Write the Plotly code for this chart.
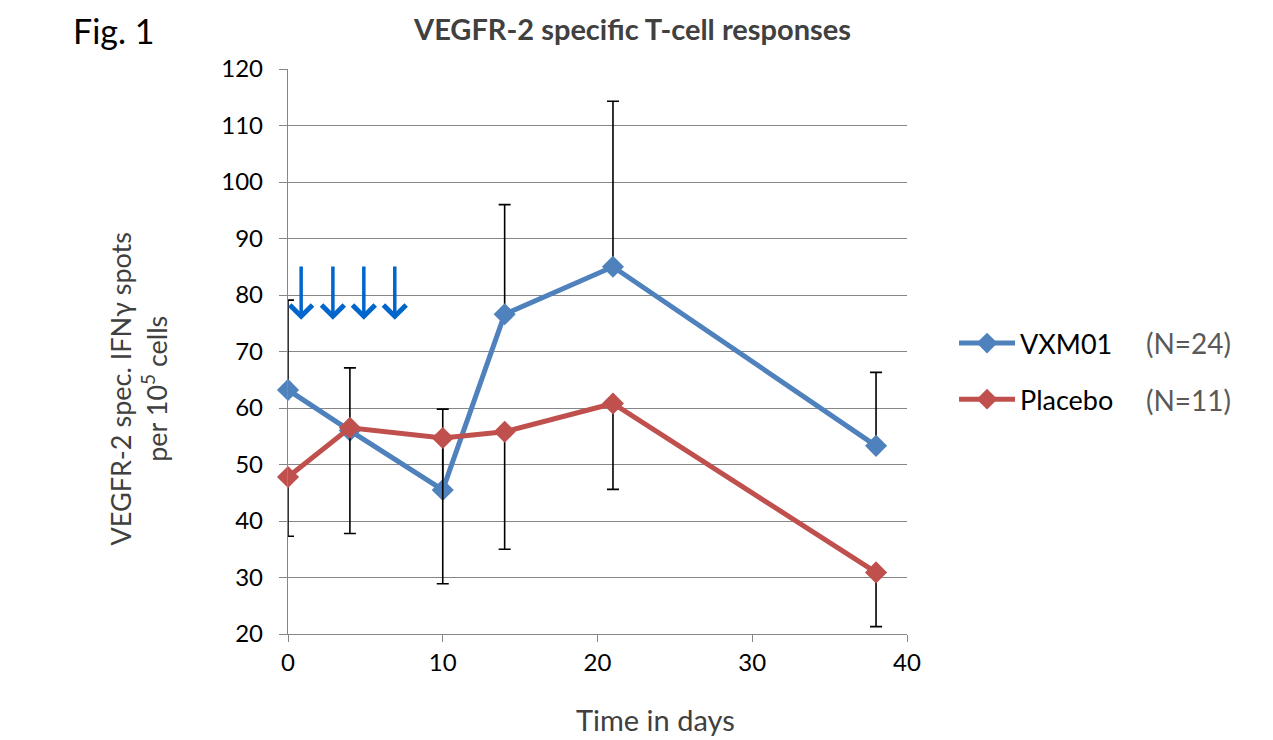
import plotly.graph_objects as go

# ---- data ----
days = [0, 4, 10, 14, 21, 38]
vxm01_mean = [63.2, 56.0, 45.5, 76.6, 85.0, 53.3]
vxm01_err_plus = [15.9, 11.1, 14.3, 19.4, 29.3, 13.0]
placebo_mean = [47.8, 56.5, 54.7, 55.8, 60.8, 30.9]
placebo_err_minus = [10.5, 18.7, 25.8, 20.8, 15.2, 9.6]
vaccination_days = [0.85, 2.9, 4.9, 6.9]
series_names = ["VXM01", "Placebo"]
group_sizes = ["(N=24)", "(N=11)"]
x_ticks = [0, 10, 20, 30, 40]
y_ticks = [20, 30, 40, 50, 60, 70, 80, 90, 100, 110, 120]

FONT = "Lato"
BLUE = "#4F81BD"
RED = "#C0504D"
GRID = "#868686"

fig = go.Figure()
fig.add_trace(go.Scatter(
    x=days, y=vxm01_mean, name=series_names[0], legendgroup="a",
    mode="lines+markers",
    line=dict(color=BLUE, width=5),
    marker=dict(symbol="diamond", size=17, color=BLUE),
    error_y=dict(type="data", symmetric=False, array=vxm01_err_plus,
                 arrayminus=[0] * len(days), color="black", thickness=1.6, width=6),
    cliponaxis=False,
))
fig.add_trace(go.Scatter(
    x=days, y=placebo_mean, name=series_names[1], legendgroup="b",
    mode="lines+markers",
    line=dict(color=RED, width=5),
    marker=dict(symbol="diamond", size=17, color=RED),
    error_y=dict(type="data", symmetric=False, array=[0] * len(days),
                 arrayminus=placebo_err_minus, color="black", thickness=1.6, width=6),
    cliponaxis=False,
))

annotations = []
# vaccination arrows
for d in vaccination_days:
    annotations.append(dict(
        x=d, y=75.6, ax=d, ay=85.3, xref="x", yref="y", axref="x", ayref="y",
        text="", showarrow=True, arrowhead=4, arrowsize=1.25, arrowwidth=3.5,
        arrowcolor="#0066CC",
    ))
# group sizes next to legend
for i, (n, yp) in enumerate(zip(group_sizes, [0.515, 0.414])):
    annotations.append(dict(
        x=1.454, y=yp, xref="paper", yref="paper",
        text=n, showarrow=False, xanchor="center", yanchor="middle",
        font=dict(family=FONT, size=28, color="#595959"),
    ))
# y axis title
annotations.append(dict(
    x=-0.2415, y=0.4336, xref="paper", yref="paper", textangle=-90,
    text="VEGFR-2 spec. IFNγ spots<br>per 10<sup>5</sup> cells", showarrow=False,
    xanchor="center", yanchor="middle",
    font=dict(family=FONT, size=27, color="#404040"),
))
# x axis title (kept inside the page)
annotations.append(dict(
    x=0.593, y=-0.186, xref="paper", yref="paper",
    text="Time in days", showarrow=False, xanchor="center", yanchor="bottom",
    font=dict(family=FONT, size=29, color="#404040"),
))
# figure label (kept inside the page)
annotations.append(dict(
    x=-0.35, y=1.108, xref="paper", yref="paper",
    text="Fig. 1", showarrow=False, xanchor="left", yanchor="top",
    font=dict(family=FONT, size=34, color="black"),
))
# chart title
annotations.append(dict(
    x=0.5557, y=1.107, xref="paper", yref="paper",
    text="<b>VEGFR-2 specific T-cell responses</b>", showarrow=False,
    xanchor="center", yanchor="top",
    font=dict(family=FONT, size=29, color="#404040"),
))

fig.update_layout(
    width=1265, height=732,
    margin=dict(l=280, r=366, t=61, b=106),
    paper_bgcolor="white", plot_bgcolor="white",
    xaxis=dict(range=[0, 40], tickvals=x_ticks, showgrid=False, zeroline=False,
               showline=True, linecolor=GRID, linewidth=1.3,
               ticks="outside", ticklen=7, tickcolor=GRID, tickwidth=1.3,
               tickfont=dict(family=FONT, size=24, color="black")),
    yaxis=dict(range=[20, 120], tickvals=y_ticks, showgrid=True, gridcolor=GRID,
               gridwidth=1.3, zeroline=False, showline=True, linecolor=GRID,
               linewidth=1.3, ticks="outside", ticklen=8, tickcolor=GRID, tickwidth=1.3,
               ticklabelstandoff=11,
               tickfont=dict(family=FONT, size=24, color="black")),
    legend=dict(x=1.076, y=0.5575, xanchor="left", yanchor="top",
                tracegroupgap=18, itemwidth=56,
                font=dict(family=FONT, size=27, color="black"),
                bgcolor="rgba(0,0,0,0)"),
    annotations=annotations,
)

fig.write_html("out.html")
